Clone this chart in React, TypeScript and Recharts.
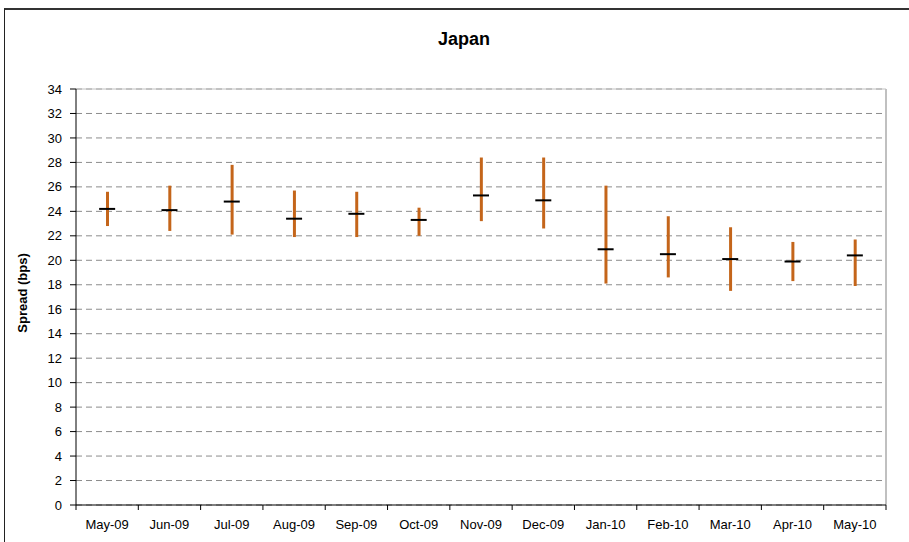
import {
  Bar,
  CartesianGrid,
  ComposedChart,
  ReferenceLine,
  Scatter,
  XAxis,
  YAxis,
} from 'recharts'

const months = [
  'May-09', 'Jun-09', 'Jul-09', 'Aug-09', 'Sep-09', 'Oct-09', 'Nov-09',
  'Dec-09', 'Jan-10', 'Feb-10', 'Mar-10', 'Apr-10', 'May-10',
]
const lows = [22.8, 22.4, 22.1, 21.9, 21.9, 22.0, 23.2, 22.6, 18.1, 18.6, 17.5, 18.3, 17.9]
const highs = [25.6, 26.1, 27.8, 25.7, 25.6, 24.3, 28.4, 28.4, 26.1, 23.6, 22.7, 21.5, 21.7]
const means = [24.2, 24.1, 24.8, 23.4, 23.8, 23.3, 25.3, 24.9, 20.9, 20.5, 20.1, 19.9, 20.4]
const yTicks = [0, 2, 4, 6, 8, 10, 12, 14, 16, 18, 20, 22, 24, 26, 28, 30, 32, 34]
const xEdges = months.map((_, i) => i).concat(months.length)

const data = months.map((month, i) => ({
  x: i + 0.5,
  month,
  range: [lows[i], highs[i]],
  mean: means[i],
}))

const FONT = '"Liberation Sans", Arial, sans-serif'
const RANGE_COLOR = '#c4651a'

const W = 909
const H = 542
const MARGIN = { top: 89, right: 23, bottom: 7, left: 36 }
const Y_AXIS_W = 40
const PLOT_W = W - MARGIN.left - Y_AXIS_W - MARGIN.right

function MonthTick(props: any) {
  const { x, y, payload } = props
  const v = payload.value
  if (v >= months.length) return null
  const step = PLOT_W / months.length
  return (
    <text x={x + step / 2} y={y} dy="0.71em" textAnchor="middle" fill="#000" fontSize={13} fontFamily={FONT}>
      {months[v]}
    </text>
  )
}

function MeanDash(props: any) {
  const { cx, cy } = props
  if (cx == null || cy == null) return null
  return <line x1={cx - 8} x2={cx + 8} y1={cy} y2={cy} stroke="#000" strokeWidth={2} />
}

export default function App() {
  return (
    <div style={{ position: 'absolute', left: 0, top: 0, width: W, height: H, overflow: 'hidden', background: '#fff' }}>
      <div
        style={{
          position: 'absolute',
          left: 4,
          top: 8,
          width: W - 4,
          height: H - 8,
          boxSizing: 'border-box',
          borderTop: '2px solid #333',
          borderLeft: '1px solid #222',
        }}
      />
      <div
        style={{
          position: 'absolute',
          left: 0,
          top: 28,
          width: 928,
          textAlign: 'center',
          fontFamily: FONT,
          fontWeight: 'bold',
          fontSize: 18,
          lineHeight: '22px',
        }}
      >
        Japan
      </div>
      <div
        style={{
          position: 'absolute',
          left: 22,
          top: 293,
          transform: 'translate(-50%, -50%) rotate(-90deg)',
          whiteSpace: 'nowrap',
          fontFamily: FONT,
          fontWeight: 'bold',
          fontSize: 13,
        }}
      >
        Spread (bps)
      </div>
      <div style={{ position: 'absolute', left: 0, top: 0 }}>
        <ComposedChart width={W} height={H} data={data} margin={MARGIN} style={{ fontFamily: FONT }}>
          <CartesianGrid vertical={false} stroke="#8c8c8c" strokeDasharray="6 4" />
          <XAxis
            type="number"
            dataKey="x"
            domain={[0, months.length]}
            ticks={xEdges}
            interval={0}
            tickSize={5}
            tickMargin={10}
            height={30}
            axisLine={{ stroke: '#000' }}
            tickLine={{ stroke: '#000' }}
            tick={<MonthTick />}
          />
          <YAxis
            type="number"
            domain={[0, 34]}
            ticks={yTicks}
            interval={0}
            width={Y_AXIS_W}
            tickSize={6}
            tickMargin={8}
            axisLine={{ stroke: '#000' }}
            tickLine={{ stroke: '#000' }}
            tick={{ fill: '#000', fontSize: 13, fontFamily: FONT }}
          />
          <ReferenceLine x={months.length} stroke="#c0c0c0" strokeWidth={2} />
          <ReferenceLine y={34} stroke="#c0c0c0" strokeDasharray="0" />
          <Bar dataKey="range" fill={RANGE_COLOR} barSize={3} isAnimationActive={false} />
          <Scatter dataKey="mean" shape={<MeanDash />} isAnimationActive={false} />
        </ComposedChart>
      </div>
    </div>
  )
}
